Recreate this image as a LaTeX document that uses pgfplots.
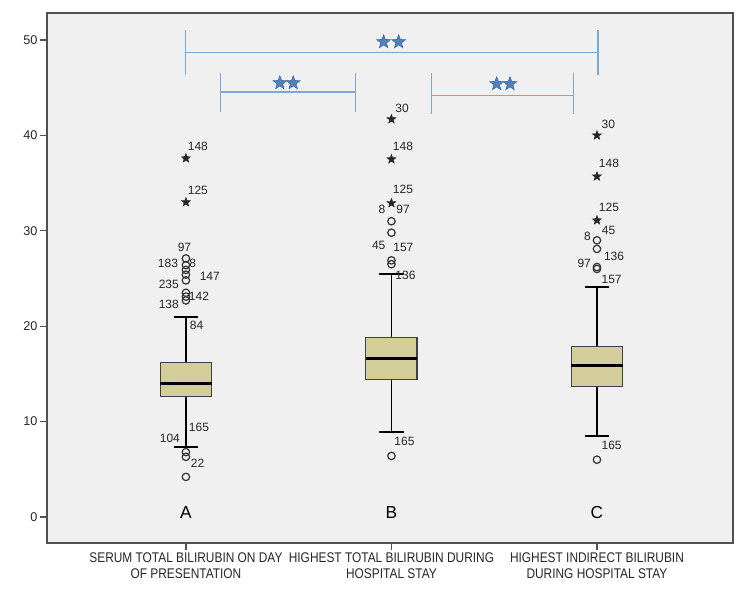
\documentclass[border=0pt]{standalone}
\usepackage{fontspec}
\setmainfont{Liberation Sans}
\newfontfamily\narrowfont[FakeStretch=0.85]{Liberation Sans}
\usepackage{pgfplots}
\usepackage{pgfplotstable}
\pgfplotsset{compat=1.18}
\usepgfplotslibrary{statistics}

\definecolor{bgcol}{HTML}{F0F0F0}
\definecolor{boxfill}{HTML}{D3CE99}
\definecolor{framecol}{HTML}{505050}
\definecolor{sigline}{HTML}{7BA7DA}
\definecolor{sigfill}{HTML}{4F81BD}
\definecolor{sigdraw}{HTML}{3C6A9F}

% filled five-point star mark
\pgfdeclareplotmark{fstar}{%
  \pgfpathmoveto{\pgfpointpolar{90}{\pgfplotmarksize}}%
  \pgfpathlineto{\pgfpointpolar{126}{0.42\pgfplotmarksize}}%
  \pgfpathlineto{\pgfpointpolar{162}{\pgfplotmarksize}}%
  \pgfpathlineto{\pgfpointpolar{198}{0.42\pgfplotmarksize}}%
  \pgfpathlineto{\pgfpointpolar{234}{\pgfplotmarksize}}%
  \pgfpathlineto{\pgfpointpolar{270}{0.42\pgfplotmarksize}}%
  \pgfpathlineto{\pgfpointpolar{306}{\pgfplotmarksize}}%
  \pgfpathlineto{\pgfpointpolar{342}{0.42\pgfplotmarksize}}%
  \pgfpathlineto{\pgfpointpolar{18}{\pgfplotmarksize}}%
  \pgfpathlineto{\pgfpointpolar{54}{0.42\pgfplotmarksize}}%
  \pgfpathclose
  \pgfusepathqfillstroke}

% outlier case numbers, set to the right of the point
\pgfplotstableread{
x      y     lab
0.005  38.9  148
0.005  34.2  125
0.012  26.6  8
0.063  25.2  147
0.010  23.1  142
0.015  20.1  84
0.010  9.4   165
0.020  5.6   22
1.015  42.8  30
1.003  38.8  148
1.003  34.3  125
1.020  32.2  97
1.005  28.3  157
1.015  25.3  136
1.010  7.9   165
2.018  41.2  30
2.005  37.1  148
2.005  32.5  125
2.020  30.0  45
2.030  27.3  136
2.018  24.9  157
2.018  7.5   165
}\labright

% case numbers set to the left of the point
\pgfplotstableread{
x      y     lab
-0.034 26.6  183
-0.030 24.4  235
-0.030 22.3  138
-0.025 8.2   104
0.975  32.2  8
0.975  28.5  45
1.975  29.4  8
1.975  26.6  97
}\lableft

% case numbers centred over the point
\pgfplotstableread{
x      y     lab
-0.007 28.3  97
}\labcentre

\begin{document}
\begin{tikzpicture}
\path[use as bounding box] (-35.25pt,-40.5pt) rectangle (527.25pt,407.25pt);
\begin{axis}[
    scale only axis,
    width=514.5pt, height=397.5pt,
    xmin=-0.676, xmax=2.662,
    ymin=-2.73, ymax=52.83,
    axis background/.style={fill=bgcol},
    axis line style={framecol, line width=1.2pt},
    tick pos=left,
    tick align=outside,
    major tick length=5pt,
    tick style={framecol, line width=1pt},
    xtick={0,1,2},
    xticklabels={{SERUM TOTAL BILIRUBIN ON DAY\\OF PRESENTATION},
                  {HIGHEST TOTAL BILIRUBIN DURING\\HOSPITAL STAY},
                  {HIGHEST INDIRECT BILIRUBIN\\DURING HOSPITAL STAY}},
    xticklabel style={align=center, font=\narrowfont\fontsize{10.5}{12}\selectfont, text=black!85, inner sep=2pt},
    ytick={0,10,20,30,40,50},
    yticklabel style={font=\fontsize{9.5}{11}\selectfont, text=black!85, inner sep=2pt},
    /pgf/number format/assume math mode=true,
    boxplot/draw direction=y,
    boxplot/box extend=0.25,
    boxplot/whisker extend=0.12,
    boxplot/every median/.style={black, line width=2.3pt},
    boxplot/every whisker/.style={black, line width=1.4pt},
    clip=false,
    caselab/.style={draw=none, nodes near coords, point meta=explicit symbolic,
        every node near coord/.append style={anchor=#1, inner sep=0.5pt,
            font=\fontsize{9}{10}\selectfont, text=black!85}},
    bx/.style={solid, draw=black!75, fill=boxfill, line width=1pt,
        mark=o, mark size=2.8pt, mark options={draw=black!80, fill=none, line width=0.9pt}},
]

% boxes, with their mild outliers (circles)
\addplot+[bx, boxplot prepared={lower whisker=7.3, lower quartile=12.6, median=14.0,
    upper quartile=16.2, upper whisker=21.0, draw position=0}]
  table[row sep=\\, y index=0] {
    \\ 27.1\\ 26.4\\ 25.9\\ 25.4\\ 24.8\\ 23.5\\ 23.1\\ 22.7\\ 6.8\\ 6.3\\ 4.2\\
  };
\addplot+[bx, boxplot prepared={lower whisker=8.9, lower quartile=14.4, median=16.6,
    upper quartile=18.8, upper whisker=25.5, draw position=1}]
  table[row sep=\\, y index=0] {
    \\ 31.0\\ 29.8\\ 26.9\\ 26.5\\ 6.4\\
  };
\addplot+[bx, boxplot prepared={lower whisker=8.5, lower quartile=13.7, median=15.9,
    upper quartile=17.9, upper whisker=24.1, draw position=2}]
  table[row sep=\\, y index=0] {
    \\ 29.0\\ 28.1\\ 26.2\\ 26.0\\ 6.0\\
  };

% extreme outliers (stars)
\addplot[only marks, mark=fstar, mark size=3.6pt, draw=black!85, fill=black!85, line width=0.3pt]
  coordinates {
    (0,37.6) (0,33.0)
    (1,41.7) (1,37.5) (1,32.9)
    (2,40.0) (2,35.7) (2,31.1)
  };

% case numbers
\addplot[caselab=west] table[x=x, y=y, meta=lab] {\labright};
\addplot[caselab=east] table[x=x, y=y, meta=lab] {\lableft};
\addplot[caselab=center] table[x=x, y=y, meta=lab] {\labcentre};

% significance brackets
\addplot[sigline, line width=0.9pt] coordinates {(-0.002,51.0) (-0.002,46.3)};
\addplot[sigline, line width=0.9pt] coordinates {(-0.002,48.7) (2.005,48.7)};
\addplot[sigline, line width=0.9pt] coordinates {(2.005,51.0) (2.005,46.3)};
\addplot[sigline, line width=0.9pt] coordinates {(0.170,46.5) (0.170,42.5)};
\addplot[sigline, line width=0.9pt] coordinates {(0.170,44.55) (0.827,44.55)};
\addplot[sigline, line width=0.9pt] coordinates {(0.827,46.5) (0.827,42.5)};
\addplot[sigline, line width=0.9pt] coordinates {(1.196,46.5) (1.196,42.2)};
\addplot[sigline, line width=0.9pt] coordinates {(1.196,44.2) (1.885,44.2)};
\addplot[sigline, line width=0.9pt] coordinates {(1.885,46.5) (1.885,42.2)};

% significance stars
\addplot[only marks, mark=fstar, mark size=5.4pt, draw=sigdraw, fill=sigfill, line width=0.4pt]
  coordinates {(0.962,49.8) (1.035,49.8)
               (0.457,45.5) (0.522,45.5)
               (1.512,45.4) (1.577,45.4)};

% group letters
\node[font=\fontsize{13}{14}\selectfont] at (axis cs:0,0.42) {A};
\node[font=\fontsize{13}{14}\selectfont] at (axis cs:1,0.42) {B};
\node[font=\fontsize{13}{14}\selectfont] at (axis cs:2,0.42) {C};
\end{axis}
\end{tikzpicture}
\end{document}
